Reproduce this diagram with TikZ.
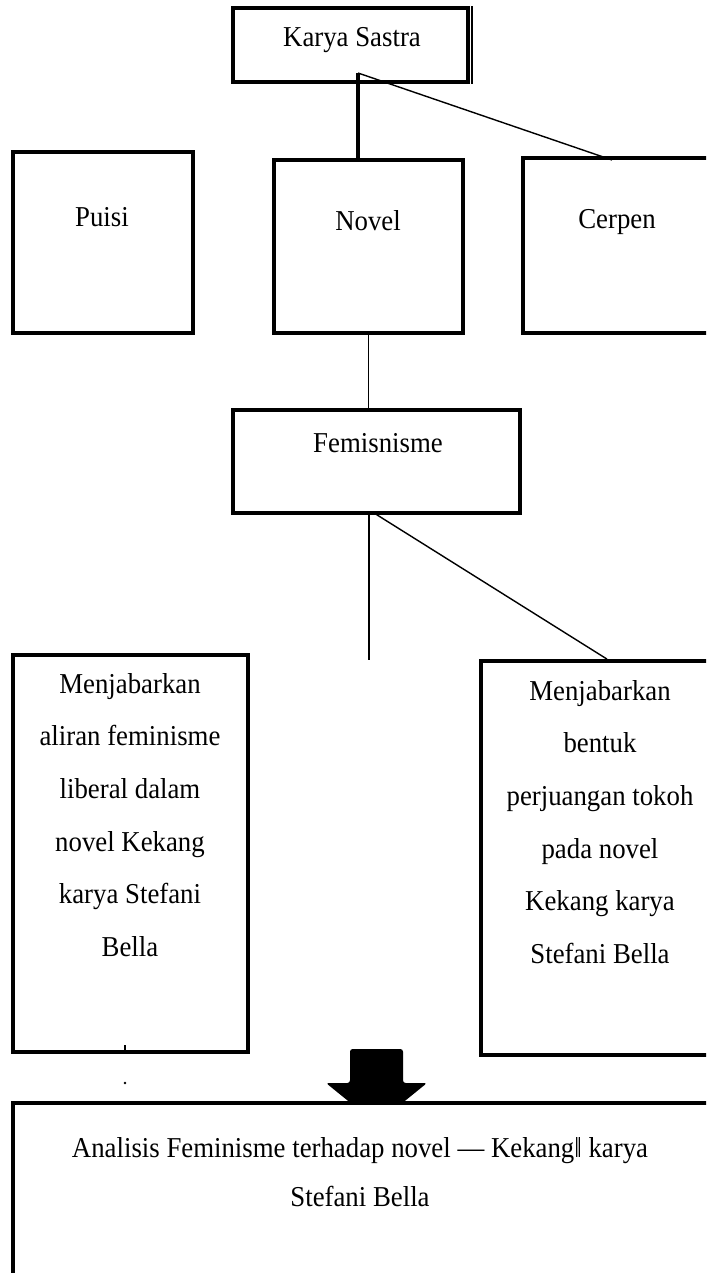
\documentclass[tikz,border=0pt]{standalone}
\usepackage{fontspec}
\setmainfont[FakeStretch=0.93]{Liberation Serif}
\usetikzlibrary{positioning}

\tikzset{
    kotak/.style={draw, line width=2.2pt, inner sep=0pt, fill=white},
    teks/.style={align=center, font=\fontsize{16.4}{30}\selectfont},
    garis/.style={line width=0.8pt},
    garistebal/.style={line width=2pt}
}

\begin{document}
\begin{tikzpicture}[x=0.02cm,y=-0.02cm]
            \useasboundingbox (0,0) rectangle (706,1273);
            \clip (0,0) rectangle (706,1273);
            \begin{scope}[node distance=0.5cm]
                \node[kotak, name=karya, minimum width=4.7cm, minimum height=1.48cm] at (350.5,45) (karya) {};
                \node[kotak, name=puisi, minimum width=3.6cm, minimum height=3.62cm] at (103,242.5) (puisi) {};
                \node[kotak, name=novel, minimum width=3.78cm, minimum height=3.46cm] at (368.5,246.5) (novel) {};
                \node[kotak, name=cerpen, minimum width=5.54cm, minimum height=3.5cm] at (661.5,245.5) (cerpen) {};
                \node[kotak, name=femis, minimum width=5.74cm, minimum height=2.06cm] at (376.5,461.5) (femis) {};
                \node[kotak, name=kiri, minimum width=4.7cm, minimum height=7.94cm] at (130.5,853.5) (kiri) {};
                \node[kotak, name=kanan, minimum width=5.04cm, minimum height=7.88cm] at (607,858) (kanan) {};
                \draw[line width=1pt] ([xshift=1.4pt]karya.north east) -- ([xshift=1.4pt]karya.south east);

                \node[teks, name=karyat] at (352,40) (karyat) {Karya Sastra};
                \node[teks, name=puisit] at (102,217) (puisit) {Puisi};
                \node[teks, name=novelt] at (368,221) (novelt) {Novel};
                \node[teks, name=cerpent] at (617,222) (cerpent) {Cerpen};
                \node[teks, name=femist] at (378,443) (femist) {Femisnisme};
                \node[teks, name=kirit] at (130,815) (kirit) {Menjabarkan\\aliran feminisme\\liberal dalam\\novel Kekang\\karya Stefani\\Bella};
                \node[teks, name=kanant] at (600,822) (kanant) {Menjabarkan\\bentuk\\perjuangan tokoh\\pada novel\\Kekang karya\\Stefani Bella};

                \coordinate (ks) at (358,73);
                \coordinate (cp) at (612,160);
                \coordinate (fs) at (369,513);
                \coordinate (fe) at (369,660);
                \draw[garistebal] (ks) -- (ks |- novel.north);
                \draw[garis] (ks) -- (cp);
                \draw[garis] (novel.south) -- (novel.south |- femis.north);
                \draw[garis] (fs) -- (fe);
                \draw[garis] ([xshift=0.1cm]fs) -- (kanan.north);

                % tanda kecil di bawah kotak kiri
                \coordinate (tk) at (125,1045);
                \draw[garis] (tk) -- (tk |- kiri.south);
                \fill (125,1083) circle (0.8pt);

                \fill[rounded corners=1.5pt] (350,1049) -- (403,1049) -- (403,1083) -- (427,1083)
                    -- (376.5,1124) -- (326,1083) -- (350,1083) -- cycle;
                \node[kotak, name=hasil, minimum width=15.74cm, minimum height=4.94cm] at (406.5,1226.5) (hasil) {};
                \node[align=center, font=\fontsize{16.4}{28}\selectfont, name=hasilt] at (360,1172) (hasilt) {Analisis Feminisme terhadap novel --- Kekang‖ karya\\Stefani Bella};
            \end{scope}
\end{tikzpicture}
\end{document}
